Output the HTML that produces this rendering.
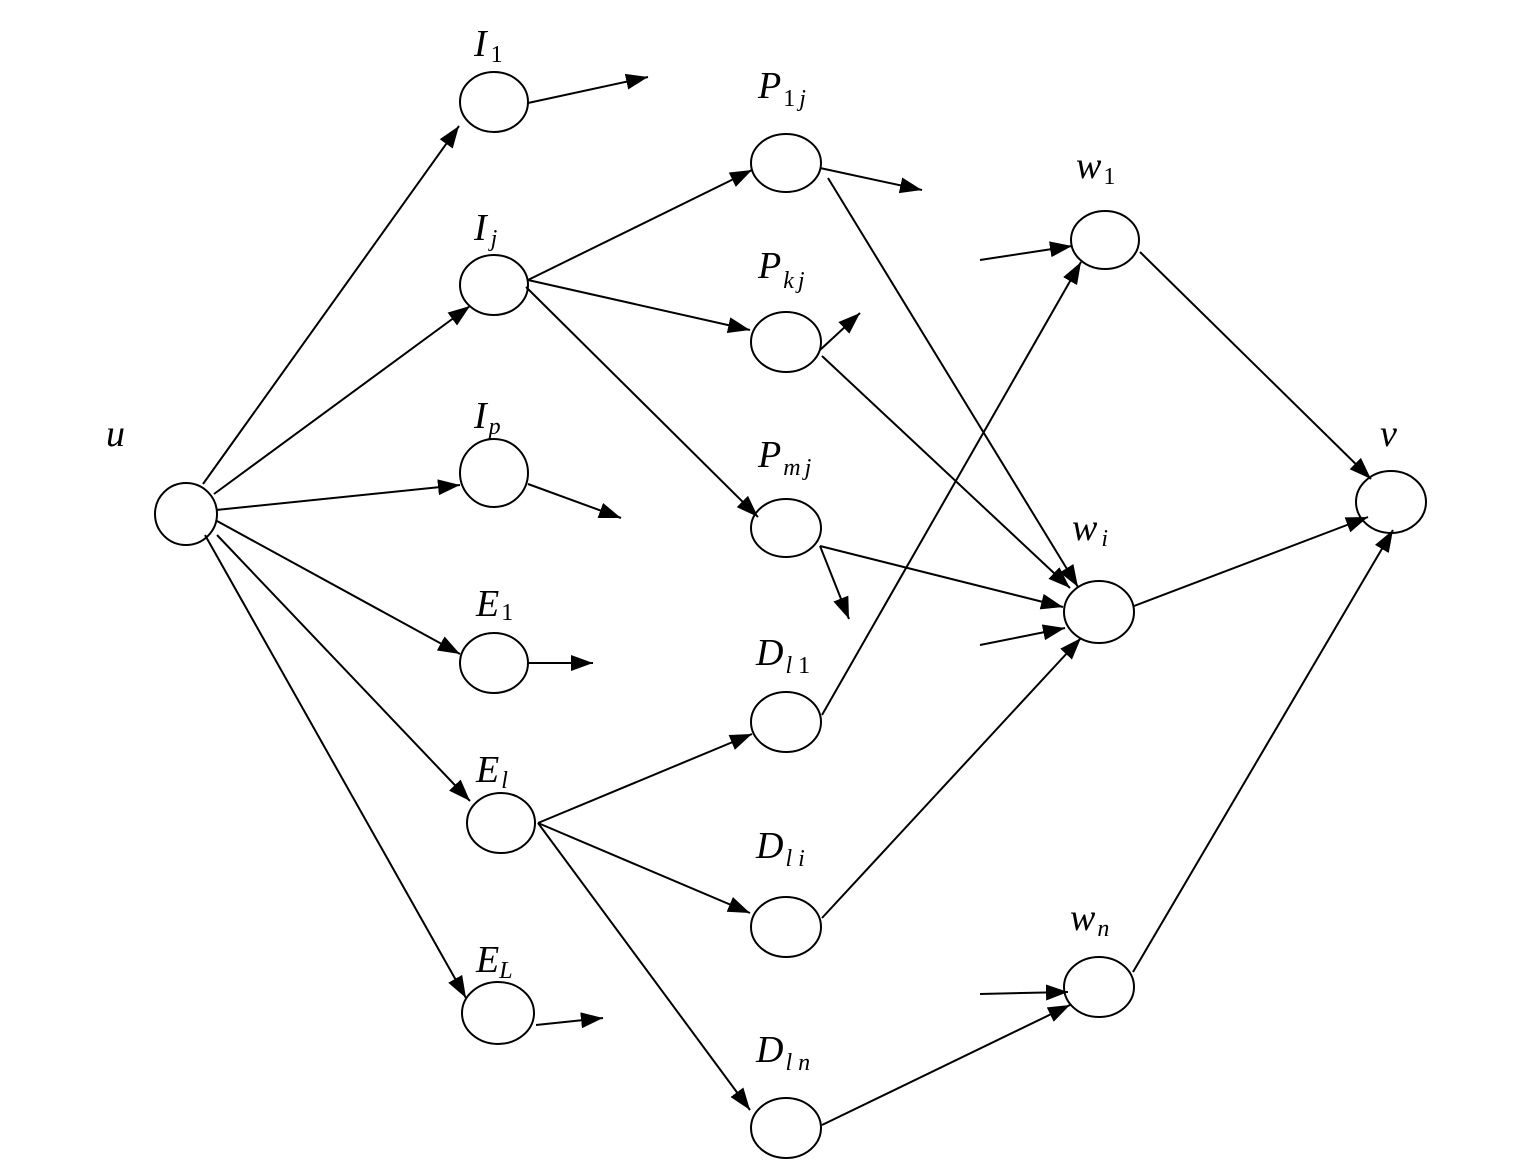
<!DOCTYPE html>
<html><head><meta charset="utf-8"><style>
html,body{margin:0;padding:0;background:#fff}
svg{display:block}
text{font-family:"Liberation Serif",serif;font-style:italic;font-size:38px;fill:#000}
tspan.s{font-size:24px}
tspan.n{font-style:normal}
</style></head><body>
<svg width="1539" height="1172" viewBox="0 0 1539 1172" xmlns="http://www.w3.org/2000/svg">
<defs><marker id="a" viewBox="0 0 22 16" refX="22" refY="8" markerWidth="22" markerHeight="16" markerUnits="userSpaceOnUse" orient="auto"><path d="M0,0 L22,8 L0,16 z" fill="#000"/></marker></defs>
<g fill="none" stroke="#000" stroke-width="2">
<ellipse cx="186" cy="514" rx="31" ry="31"/>
<ellipse cx="494" cy="102" rx="34" ry="30"/>
<ellipse cx="494" cy="285" rx="34" ry="30"/>
<ellipse cx="494" cy="473" rx="34" ry="34"/>
<ellipse cx="494" cy="663" rx="34" ry="30"/>
<ellipse cx="501" cy="823" rx="34" ry="30"/>
<ellipse cx="498" cy="1013" rx="36" ry="31"/>
<ellipse cx="786" cy="163" rx="35" ry="29"/>
<ellipse cx="786" cy="342" rx="35" ry="30"/>
<ellipse cx="786" cy="528" rx="35" ry="29"/>
<ellipse cx="786" cy="722" rx="35" ry="30"/>
<ellipse cx="786" cy="927" rx="35" ry="30"/>
<ellipse cx="786" cy="1128" rx="35" ry="30"/>
<ellipse cx="1105" cy="240" rx="34" ry="29"/>
<ellipse cx="1099" cy="612" rx="35" ry="31"/>
<ellipse cx="1099" cy="987" rx="35" ry="30"/>
<ellipse cx="1391" cy="502" rx="35" ry="31"/>
</g>
<g stroke="#000" stroke-width="2" marker-end="url(#a)">
<line x1="203" y1="484" x2="459" y2="126"/>
<line x1="214" y1="494" x2="470" y2="306"/>
<line x1="216" y1="510" x2="460" y2="485"/>
<line x1="217" y1="521" x2="460" y2="654"/>
<line x1="217" y1="535" x2="470" y2="801"/>
<line x1="205" y1="535" x2="466" y2="998"/>
<line x1="528" y1="103" x2="648" y2="77"/>
<line x1="528" y1="484" x2="621" y2="518"/>
<line x1="528" y1="663" x2="593" y2="663"/>
<line x1="536" y1="1025" x2="603" y2="1018"/>
<line x1="528" y1="280" x2="752" y2="170"/>
<line x1="528" y1="280" x2="750" y2="330"/>
<line x1="526" y1="287" x2="758" y2="517"/>
<line x1="820" y1="168" x2="922" y2="190"/>
<line x1="828" y1="178" x2="1078" y2="587"/>
<line x1="820" y1="350" x2="860" y2="313"/>
<line x1="822" y1="356" x2="1070" y2="588"/>
<line x1="820" y1="546" x2="849" y2="619"/>
<line x1="820" y1="546" x2="1063" y2="607"/>
<line x1="538" y1="823" x2="752" y2="734"/>
<line x1="538" y1="823" x2="750" y2="913"/>
<line x1="538" y1="823" x2="750" y2="1110"/>
<line x1="822" y1="715" x2="1081" y2="262"/>
<line x1="822" y1="918" x2="1081" y2="638"/>
<line x1="822" y1="1125" x2="1070" y2="1005"/>
<line x1="980" y1="260" x2="1072" y2="246"/>
<line x1="980" y1="645" x2="1065" y2="628"/>
<line x1="980" y1="994" x2="1068" y2="992"/>
<line x1="1140" y1="252" x2="1371" y2="479"/>
<line x1="1134" y1="606" x2="1368" y2="517"/>
<line x1="1133" y1="972" x2="1393" y2="530"/>
</g>
<text x="106" y="446">u</text>
<text x="474" y="56">I<tspan class="s n" dx="4" dy="6">1</tspan></text>
<text x="474" y="240">I<tspan class="s" dx="4" dy="6">j</tspan></text>
<text x="474" y="428">I<tspan class="s" dx="2" dy="6">p</tspan></text>
<text x="476" y="616">E<tspan class="s n" dx="2" dy="4">1</tspan></text>
<text x="476" y="782">E<tspan class="s" dx="2" dy="6">l</tspan></text>
<text x="476" y="972">E<tspan class="s" dx="0" dy="6">L</tspan></text>
<text x="758" y="98">P<tspan class="s n" dx="2" dy="8">1</tspan><tspan class="s" dx="4">j</tspan></text>
<text x="758" y="278">P<tspan class="s" dx="2" dy="10">k</tspan><tspan class="s" dx="4">j</tspan></text>
<text x="758" y="467">P<tspan class="s" dx="2" dy="8">m</tspan><tspan class="s" dx="4">j</tspan></text>
<text x="756" y="665">D<tspan class="s" dx="2" dy="8">l</tspan><tspan class="s n" dx="6">1</tspan></text>
<text x="756" y="858">D<tspan class="s" dx="2" dy="8">l</tspan><tspan class="s" dx="6">i</tspan></text>
<text x="756" y="1062">D<tspan class="s" dx="2" dy="8">l</tspan><tspan class="s" dx="6">n</tspan></text>
<text x="1076" y="178">w<tspan class="s n" dx="2" dy="6">1</tspan></text>
<text x="1072" y="540">w<tspan class="s" dx="4" dy="6">i</tspan></text>
<text x="1070" y="930">w<tspan class="s" dx="2" dy="6">n</tspan></text>
<text x="1380" y="446">v</text>
</svg>
</body></html>
